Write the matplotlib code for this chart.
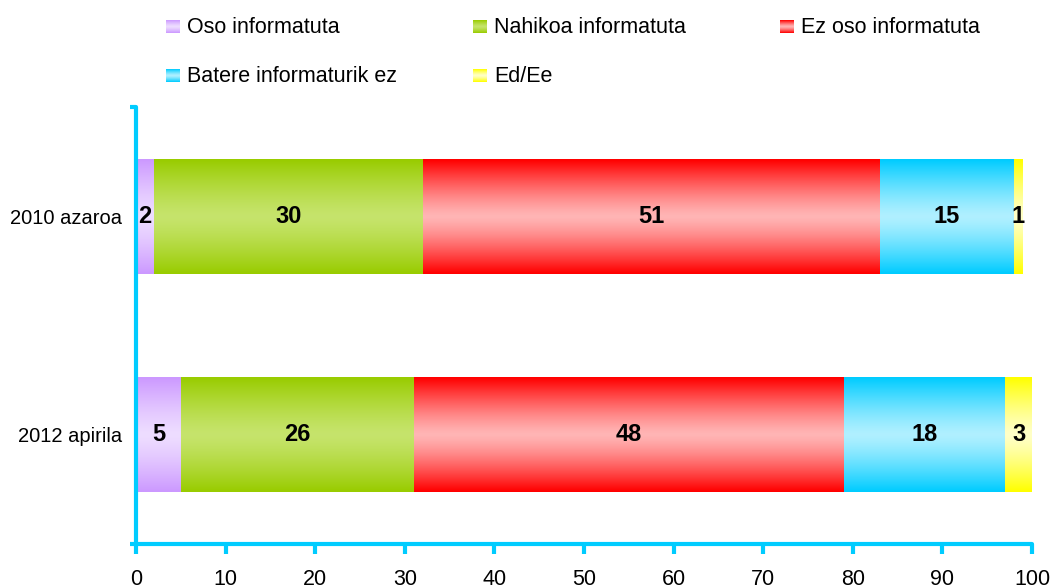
import numpy as np
import matplotlib.pyplot as plt
from matplotlib.colors import to_rgb

plt.rcParams['font.family'] = ['Liberation Sans', 'DejaVu Sans']

# data
periods = ['2012 apirila', '2010 azaroa']
series = ['Oso informatuta', 'Nahikoa informatuta', 'Ez oso informatuta',
          'Batere informaturik ez', 'Ed/Ee']
oso = [5, 2]
nahikoa = [26, 30]
ez_oso = [48, 51]
batere = [18, 15]
ed_ee = [3, 1]
values = [oso, nahikoa, ez_oso, batere, ed_ee]

edge_colors = ['#CC99FF', '#99CC00', '#FF0000', '#00CCFF', '#FFFF00']
mid_colors = ['#EEDDFF', '#C6E46C', '#FFB5B5', '#B0F0FF', '#FFFFC8']
axis_color = '#00CCFF'


def gradient(edge, mid, n=64):
    # dark at top and bottom, light in the middle
    e = np.array(to_rgb(edge))
    m = np.array(to_rgb(mid))
    t = np.abs(np.linspace(-1, 1, n)) ** 1.3
    return (m + (e - m) * t[:, None])[:, None, :]


W, H = 1055, 588
fig = plt.figure(figsize=(W / 100, H / 100), dpi=100)
ax = fig.add_axes([136 / W, 1 - 544 / H, (1032 - 136) / W, (544 - 107) / H])

y = np.arange(len(periods))
lefts = np.zeros(len(periods))
for vals, edge, mid in zip(values, edge_colors, mid_colors):
    bars = ax.barh(y, vals, left=lefts, height=0.526, color='none', zorder=2)
    grad = gradient(edge, mid)
    for bar, v in zip(bars, vals):
        x0, y0 = bar.get_x(), bar.get_y()
        ax.imshow(grad, extent=[x0, x0 + bar.get_width(), y0, y0 + bar.get_height()],
                  aspect='auto', interpolation='bilinear', zorder=1)
        ax.text(x0 + bar.get_width() / 2, y0 + bar.get_height() / 2, str(v),
                ha='center', va='center', fontsize=17, fontweight='bold', zorder=3)
    lefts += np.array(vals)

ax.set_xlim(0, 100)
ax.set_ylim(-0.5, 1.5)
ax.set_xticks(range(0, 101, 10))
ax.set_yticks(y)
ax.set_yticklabels(periods)
ax.set_yticks([-0.5, 1.5], minor=True)

for side in ['top', 'right']:
    ax.spines[side].set_visible(False)
for side in ['left', 'bottom']:
    ax.spines[side].set_color(axis_color)
    ax.spines[side].set_linewidth(3)
    ax.spines[side].set_capstyle('round')

ax.tick_params(axis='x', direction='out', length=7, width=3, color=axis_color,
               labelsize=15.5, pad=11)
ax.tick_params(axis='y', which='major', length=0, labelsize=14.5, pad=10)
ax.tick_params(axis='y', which='minor', direction='out', length=4, width=3,
               color=axis_color)

# legend, drawn by hand in two rows on an overlay in pixel coords
lg = fig.add_axes([0, 0, 1, 1], facecolor='none')
lg.set_xlim(0, W)
lg.set_ylim(H, 0)
lg.axis('off')
leg_pos = [(166, 20), (473, 20), (780, 20), (166, 69), (473, 69)]
for name, edge, mid, (px, py) in zip(series, edge_colors, mid_colors, leg_pos):
    lg.imshow(gradient(edge, mid, 32), extent=[px, px + 14, py + 13, py],
              aspect='auto', interpolation='bilinear')
    lg.text(px + 21, py + 13, name, fontsize=15.5, va='baseline')
lg.set_xlim(0, W)
lg.set_ylim(H, 0)

fig.savefig('out.png', dpi=100)
